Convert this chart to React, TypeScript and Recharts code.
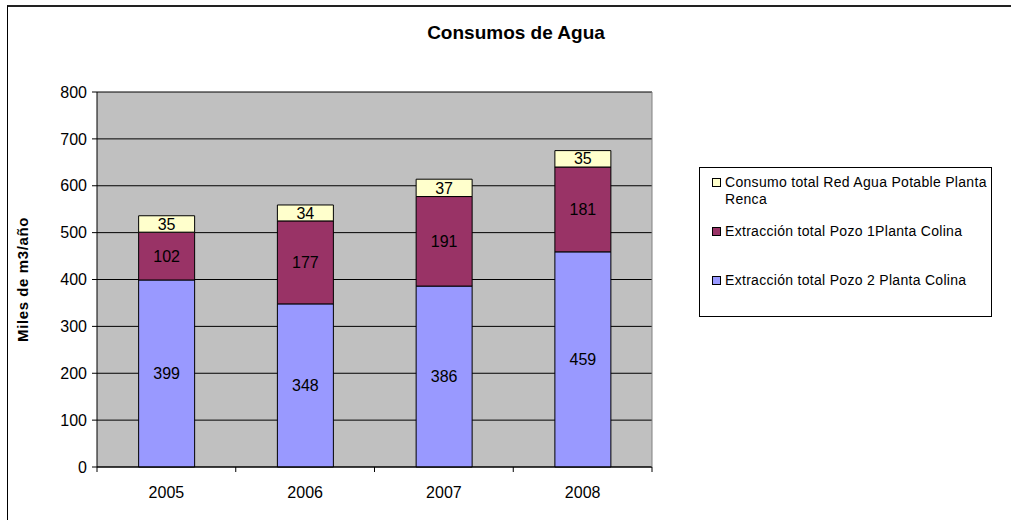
import React from 'react';
import { BarChart, Bar, XAxis, YAxis, CartesianGrid, LabelList } from 'recharts';

const years = ['2005', '2006', '2007', '2008'];
const pozo2 = [399, 348, 386, 459];
const pozo1 = [102, 177, 191, 181];
const redAgua = [35, 34, 37, 35];
const yTicks = [0, 100, 200, 300, 400, 500, 600, 700, 800];

const seriesNames = {
  pozo2: 'Extracción total Pozo 2 Planta Colina',
  pozo1: 'Extracción total Pozo 1Planta Colina',
  red: 'Consumo total Red Agua Potable Planta Renca',
};
const colors = { pozo2: '#9999FF', pozo1: '#993366', red: '#FFFFCC' };

const data = years.map((y, i) => ({ year: y, pozo2: pozo2[i], pozo1: pozo1[i], red: redAgua[i] }));

const FONT = '"Liberation Sans", Arial, sans-serif';

function LegendBox() {
  const items = [
    { key: 'red', label: 'Consumo total Red Agua Potable Planta', line2: 'Renca' },
    { key: 'pozo1', label: seriesNames.pozo1 },
    { key: 'pozo2', label: seriesNames.pozo2 },
  ];
  return (
    <div
      style={{
        position: 'absolute',
        left: 699,
        top: 167,
        width: 293,
        height: 150,
        border: '1px solid #000',
        background: '#fff',
        fontFamily: FONT,
        fontSize: 14,
        letterSpacing: 0.3,
        color: '#000',
        boxSizing: 'border-box',
      }}
    >
      {items.map((it, i) => (
        <div key={it.key} style={{ position: 'absolute', left: 12, top: 6 + i * 49, lineHeight: '17px', whiteSpace: 'nowrap' }}>
          <span
            style={{
              display: 'inline-block',
              width: 7,
              height: 7,
              border: '1px solid #000',
              background: (colors as any)[it.key],
              marginRight: 4,
            }}
          />
          {it.label}
          {it.line2 && <div style={{ paddingLeft: 13 }}>{it.line2}</div>}
        </div>
      ))}
    </div>
  );
}

function YLabel(props: any) {
  const vb = props.viewBox || {};
  const cx = 22;
  const cy = vb.y + vb.height / 2;
  return (
    <text
      x={cx}
      y={cy}
      transform={`rotate(-90 ${cx} ${cy})`}
      textAnchor="middle"
      dominantBaseline="central"
      fontFamily={FONT}
      fontWeight="bold"
      fontSize={15}
      letterSpacing={0.6}
      fill="#000"
    >
      Miles de m3/año
    </text>
  );
}

// category tick: label at the centre, tick marks on the category boundaries
function YearTick(props: any) {
  const { x, y, payload, index } = props;
  const half = payload && payload.offset ? payload.offset : 0;
  const last = index === years.length - 1;
  return (
    <g>
      <line x1={x - half} x2={x - half} y1={y} y2={y + 5} stroke="#000" />
      {last && <line x1={x + half} x2={x + half} y1={y} y2={y + 5} stroke="#000" />}
      <text x={x} y={y + 31} textAnchor="middle" fontFamily={FONT} fontSize={16} fill="#000">
        {payload.value}
      </text>
    </g>
  );
}

export default function App() {
  return (
    <div style={{ position: 'absolute', left: 0, top: 0, width: 1011, height: 520, background: '#fff', overflow: 'hidden' }}>
      <div
        style={{
          position: 'absolute',
          left: 7,
          top: 5,
          width: 1020,
          height: 530,
          borderTop: '2px solid #222',
          borderLeft: '1px solid #000',
        }}
      />
      <div
        style={{
          position: 'absolute',
          left: 0,
          top: 22,
          width: 1032,
          textAlign: 'center',
          fontFamily: FONT,
          fontWeight: 'bold',
          fontSize: 19,
          color: '#000',
        }}
      >
        Consumos de Agua
      </div>
      <div style={{ position: 'absolute', left: 0, top: 0 }}>
        <BarChart
          width={1011}
          height={520}
          data={data}
          margin={{ top: 92, right: 358, bottom: 0, left: 0 }}
          barCategoryGap="30%"
        >
          <CartesianGrid vertical={false} stroke="#000" fill="#C0C0C0" fillOpacity={1} />
          <XAxis
            dataKey="year"
            height={53}
            tickLine={false}
            tickSize={0}
            tickMargin={0}
            axisLine={{ stroke: '#000' }}
            tick={<YearTick />}
            interval={0}
          />
          <YAxis
            width={97}
            domain={[0, 800]}
            ticks={yTicks}
            interval={0}
            tickSize={5}
            tickLine={{ stroke: '#000' }}
            axisLine={{ stroke: '#000' }}
            tick={{ fill: '#000', fontSize: 16, fontFamily: FONT }}
            tickMargin={5}
            label={<YLabel />}
          />
          <YAxis
            yAxisId="edge"
            orientation="right"
            width={1}
            domain={[0, 800]}
            tick={false}
            tickLine={false}
            axisLine={{ stroke: '#808080' }}
          />
          <Bar dataKey="pozo2" name={seriesNames.pozo2} stackId="a" fill={colors.pozo2} stroke="#000" strokeWidth={1} isAnimationActive={false}>
            <LabelList dataKey="pozo2" position="center" fill="#000" fontSize={16} fontFamily={FONT} />
          </Bar>
          <Bar dataKey="pozo1" name={seriesNames.pozo1} stackId="a" fill={colors.pozo1} stroke="#000" strokeWidth={1} isAnimationActive={false}>
            <LabelList dataKey="pozo1" position="center" fill="#000" fontSize={16} fontFamily={FONT} />
          </Bar>
          <Bar dataKey="red" name={seriesNames.red} stackId="a" fill={colors.red} stroke="#000" strokeWidth={1} isAnimationActive={false}>
            <LabelList dataKey="red" position="center" fill="#000" fontSize={16} fontFamily={FONT} />
          </Bar>
        </BarChart>
      </div>
      <LegendBox />
    </div>
  );
}
